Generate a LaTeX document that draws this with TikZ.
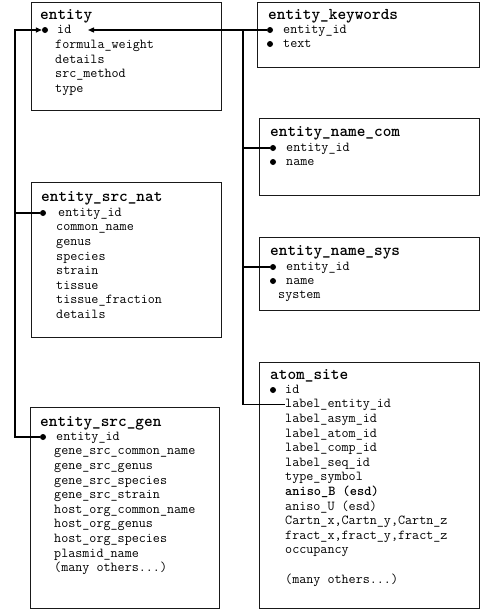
\documentclass[tikz,border=0pt]{standalone}
\usepackage{fontspec}
\usetikzlibrary{arrows.meta}
\begin{document}
\begin{tikzpicture}[x=1pt,y=-1pt,
  box/.style={draw=black!90, line width=1.3pt, anchor=north west, inner sep=0pt},
  ttl/.style={anchor=west, inner sep=0pt, text height=8.5pt, text depth=0pt, font=\fontsize{16.5}{18}\selectfont\ttfamily\bfseries},
  fld/.style={anchor=west, inner sep=0pt, text height=6.5pt, text depth=0pt, font=\fontsize{13.7}{15}\selectfont\ttfamily},
  keydot/.style={circle, fill=black, inner sep=0pt, minimum size=6pt},
  conn/.style={line width=1.3pt},
  tip/.style={-{Triangle[length=6pt,width=5pt]}}
]
\useasboundingbox (0,0) rectangle (481,611);

% entity
\node[box, minimum width=190pt, minimum height=108pt] (entity) at (31,2) {};
\node[ttl] (entity-t) at (40,15) {entity};
\node[keydot] (entity-iddot) at (45,30) {};
\node[fld] (entity-id) at (57,30) {id};
\node[fld] (entity-f1) at (55,45) {formula\_weight};
\node[fld] (entity-f2) at (55,60) {details};
\node[fld] (entity-f3) at (55,74) {src\_method};
\node[fld] (entity-f4) at (55,89) {type};

% entity_keywords
\node[box, minimum width=222pt, minimum height=65pt] (kw) at (257,2) {};
\node[ttl] (kw-t) at (268,15) {entity\_keywords};
\node[keydot] (kw-dot1) at (270,30) {};
\node[fld] (kw-f1) at (283,30) {entity\_id};
\node[keydot] (kw-dot2) at (270,44) {};
\node[fld] (kw-f2) at (283,44) {text};

% entity_name_com
\node[box, minimum width=220pt, minimum height=77pt] (nc) at (259,118) {};
\node[ttl] (nc-t) at (270,132) {entity\_name\_com};
\node[keydot] (nc-dot1) at (273,148) {};
\node[fld] (nc-f1) at (286,148) {entity\_id};
\node[keydot] (nc-dot2) at (273,162) {};
\node[fld] (nc-f2) at (286,162) {name};

% entity_name_sys
\node[box, minimum width=220pt, minimum height=73pt] (ns) at (259,237) {};
\node[ttl] (ns-t) at (270,251) {entity\_name\_sys};
\node[keydot] (ns-dot1) at (273,267) {};
\node[fld] (ns-f1) at (286,267) {entity\_id};
\node[keydot] (ns-dot2) at (273,281) {};
\node[fld] (ns-f2) at (286,281) {name};
\node[fld] (ns-f3) at (278,295) {system};

% atom_site
\node[box, minimum width=220pt, minimum height=246pt] (as) at (259,362) {};
\node[ttl] (as-t) at (270,375) {atom\_site};
\node[keydot] (as-dot1) at (273,390) {};
\node[fld] (as-id) at (285,390) {id};
\node[fld] (as-lei) at (285,404.6) {label\_entity\_id};
\node[fld] (as-f2) at (285,419.2) {label\_asym\_id};
\node[fld] (as-f3) at (285,433.8) {label\_atom\_id};
\node[fld] (as-f4) at (285,448.4) {label\_comp\_id};
\node[fld] (as-f5) at (285,463) {label\_seq\_id};
\node[fld] (as-f6) at (285,477.6) {type\_symbol};
\node[fld] (as-f7) at (285,492.2) {\bfseries aniso\_B (esd)};
\node[fld] (as-f8) at (285,506.8) {aniso\_U (esd)};
\node[fld] (as-f9) at (285,521.4) {Cartn\_x,Cartn\_y,Cartn\_z};
\node[fld] (as-f10) at (285,536) {fract\_x,fract\_y,fract\_z};
\node[fld] (as-f11) at (285,550.6) {occupancy};
\node[fld] (as-f12) at (285,580) {(many others...)};

% entity_src_nat
\node[box, minimum width=190pt, minimum height=155pt] (sn) at (31,182) {};
\node[ttl] (sn-t) at (41,197) {entity\_src\_nat};
\node[keydot] (sn-dot1) at (43,213) {};
\node[fld] (sn-f1) at (58,213) {entity\_id};
\node[fld] (sn-f2) at (56,227.6) {common\_name};
\node[fld] (sn-f3) at (56,242.2) {genus};
\node[fld] (sn-f4) at (56,256.8) {species};
\node[fld] (sn-f5) at (56,271.4) {strain};
\node[fld] (sn-f6) at (56,286) {tissue};
\node[fld] (sn-f7) at (56,300.6) {tissue\_fraction};
\node[fld] (sn-f8) at (56,315.2) {details};

% entity_src_gen
\node[box, minimum width=189pt, minimum height=201pt] (sg) at (30,407) {};
\node[ttl] (sg-t) at (40,422) {entity\_src\_gen};
\node[keydot] (sg-dot1) at (43,437) {};
\node[fld] (sg-f1) at (56,437) {entity\_id};
\node[fld] (sg-f2) at (54,451.6) {gene\_src\_common\_name};
\node[fld] (sg-f3) at (54,466.2) {gene\_src\_genus};
\node[fld] (sg-f4) at (54,480.8) {gene\_src\_species};
\node[fld] (sg-f5) at (54,495.4) {gene\_src\_strain};
\node[fld] (sg-f6) at (54,510) {host\_org\_common\_name};
\node[fld] (sg-f7) at (54,524.6) {host\_org\_genus};
\node[fld] (sg-f8) at (54,539.2) {host\_org\_species};
\node[fld] (sg-f9) at (54,553.8) {plasmid\_name};
\node[fld] (sg-f10) at (54,568.4) {(many others...)};

% connectors
\coordinate (Ltop) at (15,30);
\coordinate (Lbot) at (15,437);
\coordinate (Rtop) at (243,30);
\coordinate (Rbot) at (243,404.6);
\coordinate (Rtip) at (88,30);

\draw[conn, tip] (sg-dot1.west) -- (Lbot) -- (Ltop) -- (entity-iddot.west);
\draw[conn] (sn-dot1.west) -- (sn-dot1.west -| Ltop);
\draw[conn, tip] (kw-dot1.west) -- (Rtip);
\draw[conn] (Rtop) -- (Rbot) -- (as-lei.west);
\draw[conn] (nc-dot1.west) -- (nc-dot1.west -| Rtop);
\draw[conn] (ns-dot1.west) -- (ns-dot1.west -| Rtop);
\end{tikzpicture}
\end{document}
